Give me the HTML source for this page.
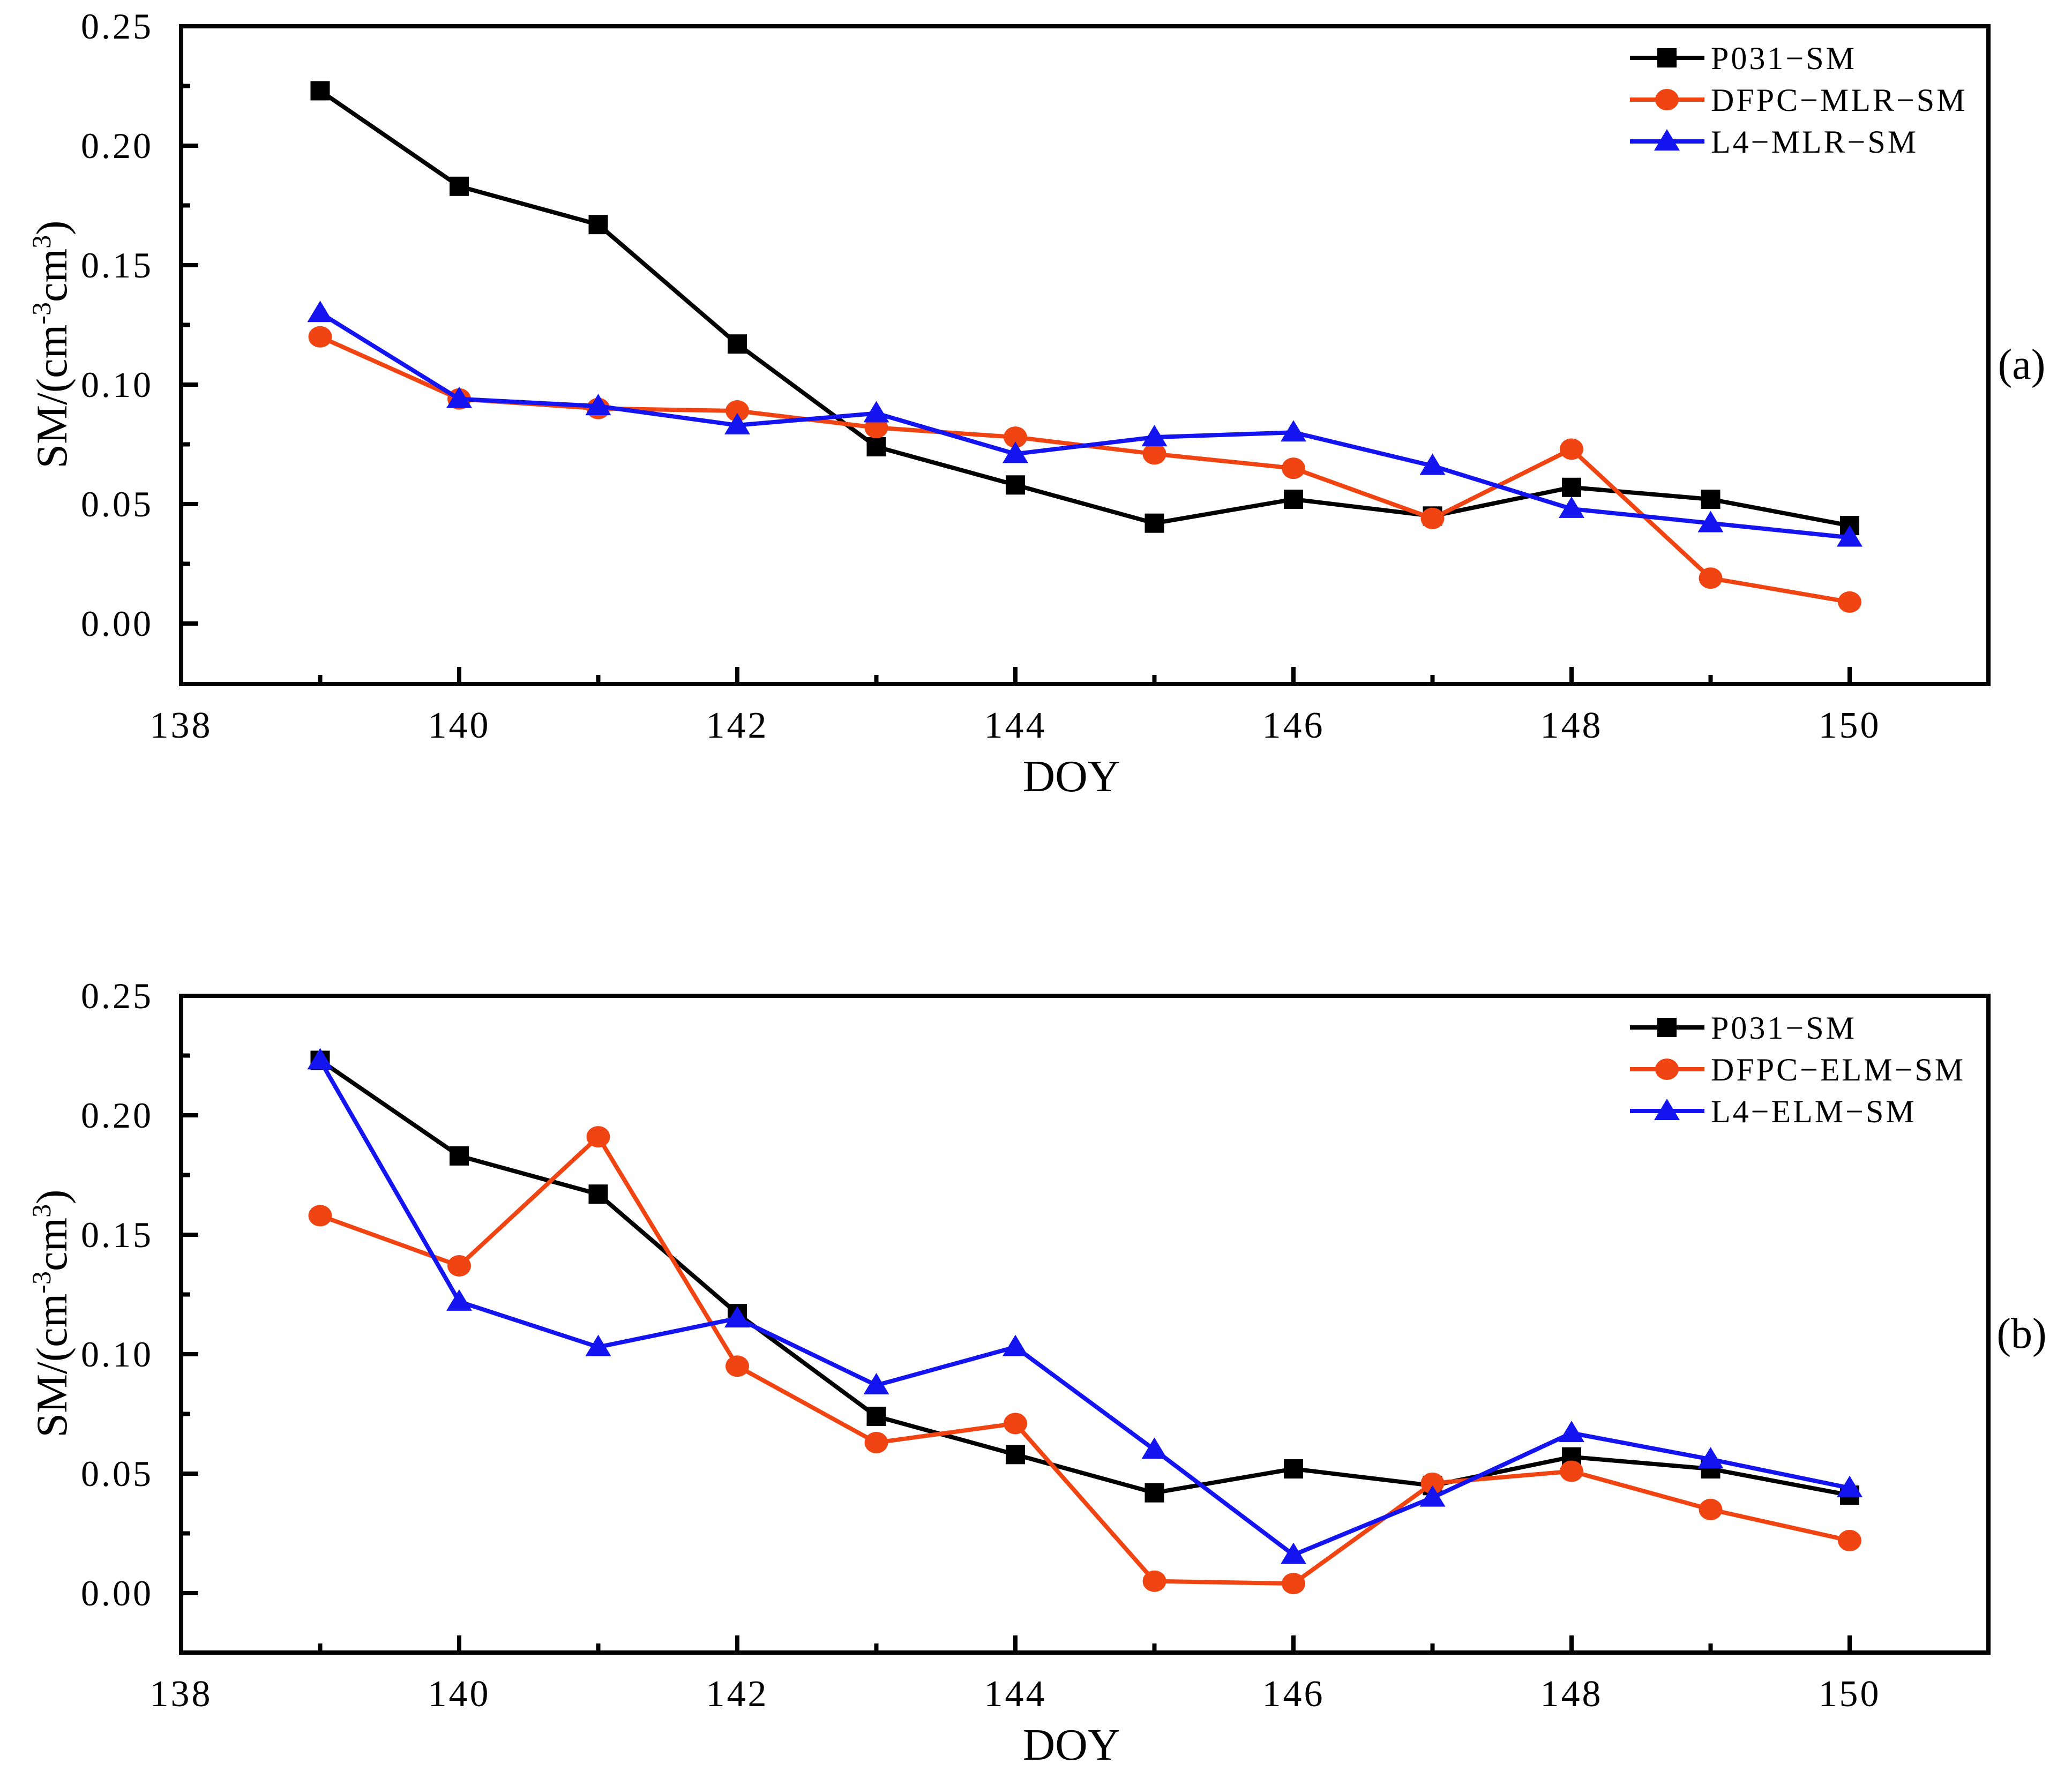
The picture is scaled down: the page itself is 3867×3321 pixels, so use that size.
<!DOCTYPE html>
<html><head><meta charset="utf-8"><style>
html,body{margin:0;padding:0;background:#fff;}
svg{display:block;font-family:"Liberation Serif",serif;}
</style></head><body>
<svg id="chart" width="3867" height="3321" viewBox="0 0 3867 3321" xmlns="http://www.w3.org/2000/svg"></svg>
<script>
const days = [139,140,141,142,143,144,145,146,147,148,149,150];
const p031 = [0.223,0.183,0.167,0.117,0.074,0.058,0.042,0.052,0.045,0.057,0.052,0.041];
const dfpcMlr = [0.120,0.094,0.090,0.089,0.082,0.078,0.071,0.065,0.044,0.073,0.019,0.009];
const l4Mlr = [0.130,0.094,0.091,0.083,0.088,0.071,0.078,0.080,0.066,0.048,0.042,0.036];
const dfpcElm = [0.158,0.137,0.191,0.095,0.063,0.071,0.005,0.004,0.046,0.051,0.035,0.022];
const l4Elm = [0.223,0.122,0.103,0.115,0.087,0.103,0.060,0.016,0.040,0.067,0.056,0.044];
const yTickLabels = ["0.00","0.05","0.10","0.15","0.20","0.25"];
const yTickValues = [0,0.05,0.10,0.15,0.20,0.25];
const xTickLabels = ["138","140","142","144","146","148","150"];
const xTickValues = [138,140,142,144,146,148,150];
const legendA = ["P031\u2212SM","DFPC\u2212MLR\u2212SM","L4\u2212MLR\u2212SM"];
const legendB = ["P031\u2212SM","DFPC\u2212ELM\u2212SM","L4\u2212ELM\u2212SM"];

const NS="http://www.w3.org/2000/svg";
const svg=document.getElementById('chart');
function mk(tag,attrs,parent){const e=document.createElementNS(NS,tag);for(const k in attrs)e.setAttribute(k,attrs[k]);(parent||svg).appendChild(e);return e;}
const colors=["#000000","#f04412","#1414f0"];
const markers=["square","circle","triangle"];

function panel(id,top,bottom,zeroY,seriesList,legendLabels,tag){
  const L=338,R=3711;
  const g=mk('g',{});
  
  
  const yScale=v=>zeroY-(v/0.25)*(zeroY-top);
  const xScale=d=>338+(d-138)*259.5;
  const frame=mk('rect',{x:L,y:top,width:R-L,height:bottom-top,fill:'none',stroke:'#000','stroke-width':8},g);
  
  
  for(let v=-0.025;v<=0.2501;v+=0.025){
    const y=yScale(v); if(y>bottom-5) continue;
    const major=Math.abs(Math.round(v/0.05)*0.05-v)<1e-6;
    const t=mk('line',{x1:L,x2:L+(major?32:17),y1:y,y2:y,stroke:'#000','stroke-width':8},g);
    
    
  }
  yTickValues.forEach((v,i)=>{
    const t=mk('text',{x:286,y:yScale(v)+23,'text-anchor':'end','font-size':68,'letter-spacing':4},g);
    t.textContent=yTickLabels[i];
    
    
  });
  for(let d=139;d<=150;d++){
    const x=xScale(d);const major=d%2===0;
    const t=mk('line',{x1:x,x2:x,y1:bottom,y2:bottom-(major?32:17),stroke:'#000','stroke-width':8},g);
    
    
  }
  xTickValues.forEach((v,i)=>{
    const t=mk('text',{x:xScale(v),y:bottom+100,'text-anchor':'middle','font-size':70,'letter-spacing':4},g);
    t.textContent=xTickLabels[i];
    
    
  });
  const xt=mk('text',{x:(L+R)/2-25,y:bottom+200,'text-anchor':'middle','font-size':84},g);
  xt.textContent='DOY';
  
  
  const yt=mk('text',{x:0,y:0,'text-anchor':'middle','font-size':82,transform:`translate(124,${(top+bottom)/2-20}) rotate(-90)`},g);
  yt.innerHTML='SM/(cm<tspan dy="-30" font-size="50">-3</tspan><tspan dy="30">cm</tspan><tspan dy="-30" font-size="50">3</tspan><tspan dy="30">)</tspan>';
  
  
  const pl=mk('text',{x:3773,y:(top+bottom)/2+44,'text-anchor':'middle','font-size':80},g);
  pl.textContent='('+tag+')';
  
  
  function marker(type,x,y,c,parent){
    let m;
    if(type==='square') m=mk('rect',{x:x-18,y:y-18,width:36,height:36,fill:c},parent);
    else if(type==='circle') m=mk('ellipse',{cx:x,cy:y,rx:22,ry:20,fill:c},parent);
    else m=mk('polygon',{points:`${x},${y-23} ${x-24},${y+17} ${x+24},${y+17}`,fill:c},parent);
    return m;
  }
  seriesList.forEach((vals,si)=>{
    const sg=mk('g',{},g);
    
    
    const pts=vals.map((v,i)=>xScale(days[i])+','+yScale(v)).join(' ');
    const ln=mk('polyline',{points:pts,fill:'none',stroke:colors[si],'stroke-width':8},sg);
    
    
    vals.forEach((v,i)=>{
      const m=marker(markers[si],xScale(days[i]),yScale(v),colors[si],sg);
      
      
    });
  });
  legendLabels.forEach((lab,i)=>{
    const y=top+59+i*78;
    const lg=mk('g',{},g);
    
    
    mk('line',{x1:3042,x2:3181,y1:y,y2:y,stroke:colors[i],'stroke-width':8},lg);
    marker(markers[i],3111,y,colors[i],lg);
    const t=mk('text',{x:3193,y:y+21,'font-size':60,'letter-spacing':4},lg);
    t.textContent=lab;
  });
}
panel('a',49,1277,1164,[p031,dfpcMlr,l4Mlr],legendA,'a');
panel('b',1859,3085,2974,[p031,dfpcElm,l4Elm],legendB,'b');
</script>
</body></html>
